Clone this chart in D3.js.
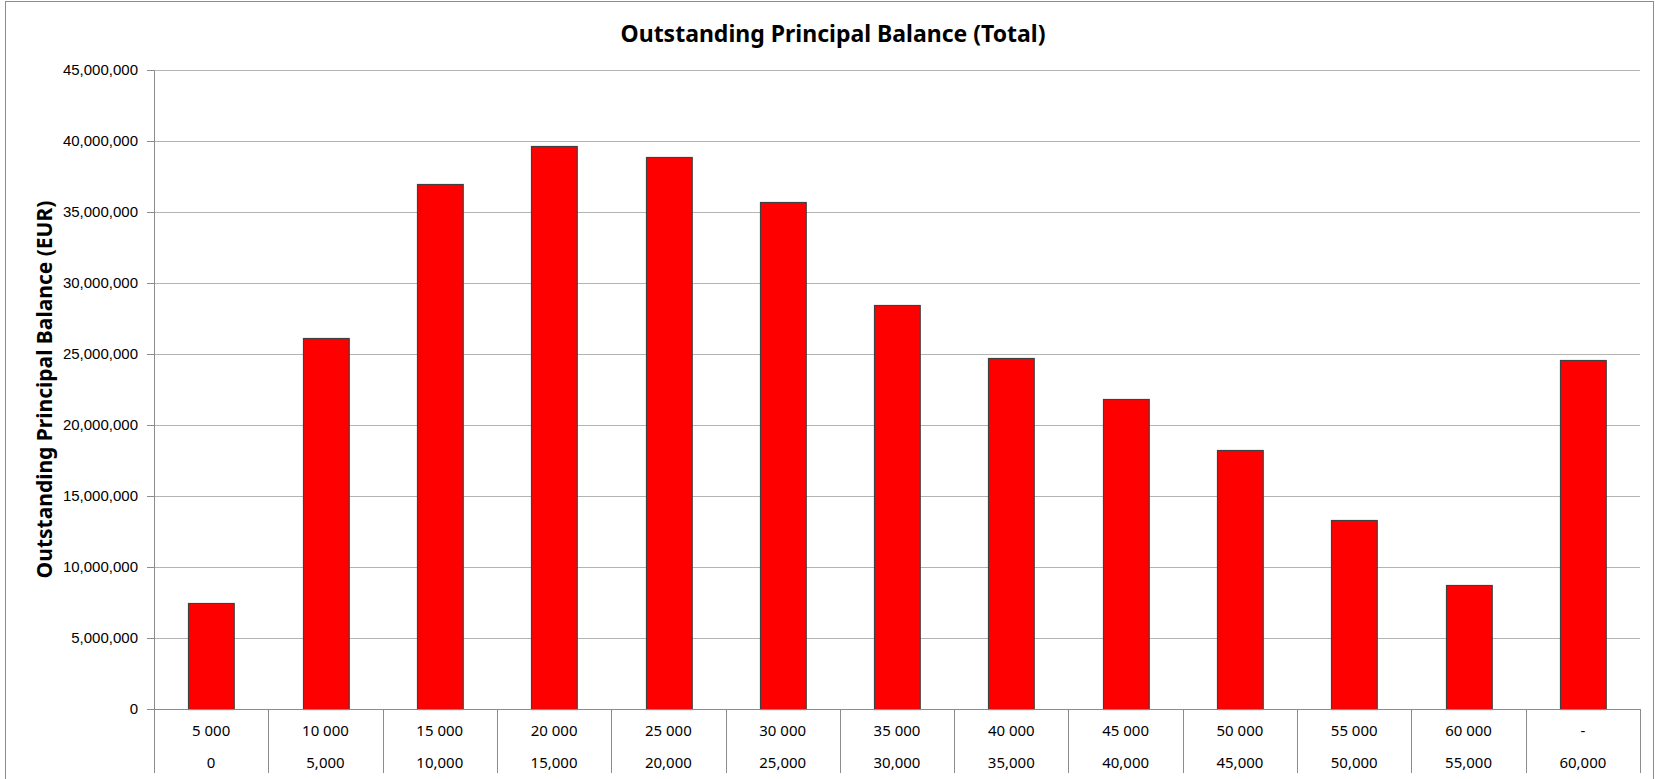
<!DOCTYPE html>
<html>
<head>
<meta charset="utf-8">
<script src="https://cdn.jsdelivr.net/npm/d3@7"></script>
<style>
  body { margin: 0; background: #fff; }
  svg { display: block; font-family: "Noto Sans", "Open Sans", sans-serif; }
</style>
</head>
<body>
<div id="chart"></div>
<script>
const upperLabels = ['5 000', '10 000', '15 000', '20 000', '25 000', '30 000', '35 000',
  '40 000', '45 000', '50 000', '55 000', '60 000', '-']
const lowerLabels = ['0', '5,000', '10,000', '15,000', '20,000', '25,000', '30,000',
  '35,000', '40,000', '45,000', '50,000', '55,000', '60,000']
const balances = [7500000, 26130000, 36990000, 39680000, 38900000, 35700000, 28430000,
  24720000, 21830000, 18260000, 13300000, 8740000, 24580000]
const yTicks = [0, 5e6, 10e6, 15e6, 20e6, 25e6, 30e6, 35e6, 40e6, 45e6]

const width = 1655
const height = 779
const margin = { top: 70, right: 15, bottom: 70, left: 154 }
const plotW = width - margin.left - margin.right
const plotH = 709 - margin.top

const svg = d3.select('#chart').append('svg')
  .attr('width', width)
  .attr('height', height)

// outer chart frame
svg.append('rect')
  .attr('x', 5.5).attr('y', 1.5)
  .attr('width', width - 7).attr('height', height + 10)
  .attr('fill', 'none').attr('stroke', '#8c8c8c')

const g = svg.append('g').attr('transform', `translate(${margin.left},${margin.top})`)

const keys = d3.range(balances.length)
const x = d3.scaleBand().domain(keys).range([0, plotW]).paddingInner(0.6).paddingOuter(0.3)
const y = d3.scaleLinear().domain([0, 45e6]).range([plotH, 0])

// gridlines
g.append('g')
  .selectAll('line')
  .data(yTicks.filter(d => d > 0))
  .join('line')
  .attr('x1', 0).attr('x2', plotW)
  .attr('y1', d => Math.round(y(d)) + 0.5).attr('y2', d => Math.round(y(d)) + 0.5)
  .attr('stroke', '#b4b4b4')

// y axis
const yAxis = g.append('g')
  .call(d3.axisLeft(y).tickValues(yTicks).tickSize(7).tickPadding(9)
    .tickFormat(d3.format(',')))
yAxis.select('.domain').attr('stroke', '#8c8c8c')
yAxis.selectAll('.tick line').attr('stroke', '#8c8c8c')
yAxis.selectAll('text').attr('font-size', 15).attr('fill', '#000')

// bars
g.append('g')
  .selectAll('rect')
  .data(balances)
  .join('rect')
  .attr('x', (d, i) => Math.round(x(i)) + 0.5)
  .attr('y', d => Math.round(y(d)) + 0.5)
  .attr('width', x.bandwidth())
  .attr('height', d => plotH - Math.round(y(d)))
  .attr('fill', '#ff0000')
  .attr('stroke', '#404040')
  .attr('stroke-width', 1.2)

// category axis (two levels)
const step = x.step()
const catAxis = g.append('g').attr('transform', `translate(0,${plotH})`)
catAxis.append('line')
  .attr('x1', 0).attr('x2', plotW)
  .attr('y1', 0.5).attr('y2', 0.5)
  .attr('stroke', '#8c8c8c')
catAxis.selectAll('line.sep')
  .data(d3.range(balances.length + 1))
  .join('line')
  .attr('class', 'sep')
  .attr('x1', i => Math.round(i * step) + 0.5).attr('x2', i => Math.round(i * step) + 0.5)
  .attr('y1', 0).attr('y2', 64)
  .attr('stroke', '#8c8c8c')
catAxis.selectAll('text.upper')
  .data(upperLabels)
  .join('text')
  .attr('class', 'upper')
  .attr('x', (d, i) => x(i) + x.bandwidth() / 2)
  .attr('y', 27)
  .attr('text-anchor', 'middle')
  .attr('font-size', 15)
  .text(d => d)
catAxis.selectAll('text.lower')
  .data(lowerLabels)
  .join('text')
  .attr('class', 'lower')
  .attr('x', (d, i) => x(i) + x.bandwidth() / 2)
  .attr('y', 59)
  .attr('text-anchor', 'middle')
  .attr('font-size', 15)
  .text(d => d)

// titles
svg.append('text')
  .attr('x', 833).attr('y', 42)
  .attr('text-anchor', 'middle')
  .attr('font-size', 23)
  .attr('font-weight', 'bold')
  .text('Outstanding Principal Balance (Total)')

svg.append('text')
  .attr('transform', `translate(52,${margin.top + plotH / 2}) rotate(-90)`)
  .attr('text-anchor', 'middle')
  .attr('font-size', 21)
  .attr('font-weight', 'bold')
  .text('Outstanding Principal Balance (EUR)')
</script>
</body>
</html>
